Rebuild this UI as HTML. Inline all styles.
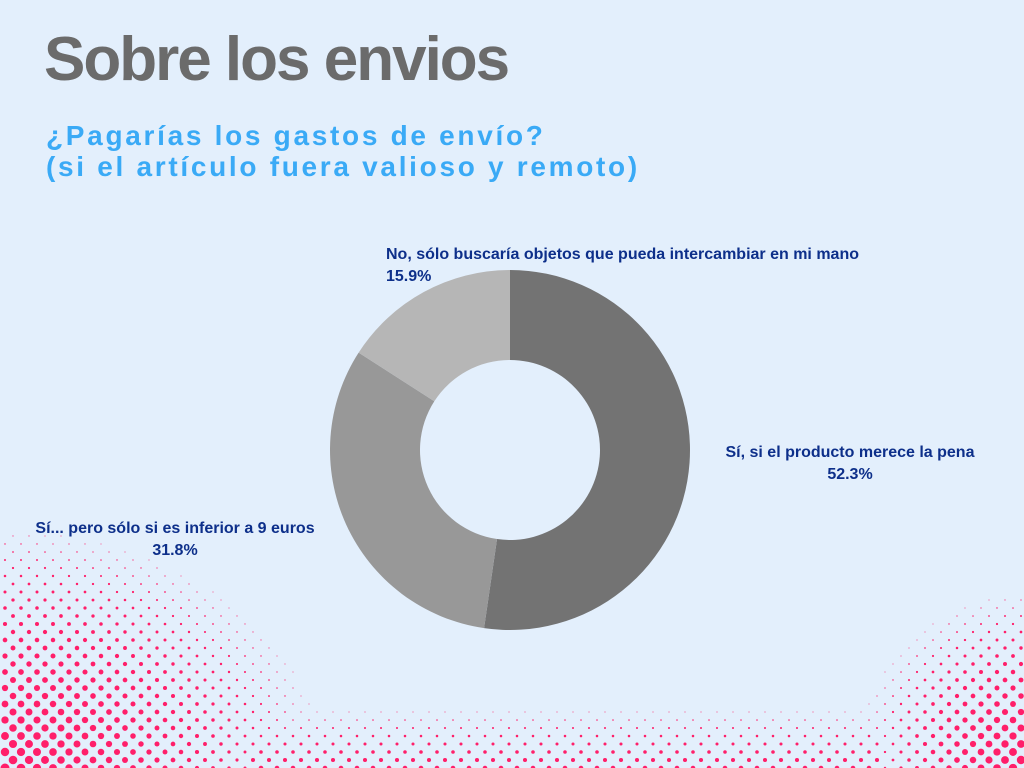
<!DOCTYPE html>
<html><head><meta charset="utf-8">
<style>
body{margin:0;width:1024px;height:768px;overflow:hidden;background:#e3effc;font-family:"Liberation Sans",sans-serif;position:relative}
#title{position:absolute;left:44px;top:24px;font-size:62px;font-weight:bold;color:#6b6b6b;letter-spacing:-2px;margin:0}
#sub{position:absolute;left:46px;top:120px;font-size:28px;font-weight:bold;color:#3aaaf6;letter-spacing:2.7px;line-height:31px}
.lbl{position:absolute;font-size:16px;font-weight:bold;color:#0d2f8a;text-align:center;line-height:22px;white-space:nowrap}
</style></head><body>
<svg id="dots" width="1024" height="768" style="position:absolute;left:0;top:0"></svg>
<h1 id="title">Sobre los envios</h1>
<div id="sub">¿Pagarías los gastos de envío?<br>(si el artículo fuera valioso y remoto)</div>
<svg id="chart" width="1024" height="768" style="position:absolute;left:0;top:0"></svg>
<div class="lbl" style="left:386px;top:244px;text-align:left">No, sólo buscaría objetos que pueda intercambiar en mi mano<br>15.9%</div>
<div class="lbl" style="left:700px;top:442px;width:300px">Sí, si el producto merece la pena<br>52.3%</div>
<div class="lbl" style="left:20px;top:518px;width:310px">Sí... pero sólo si es inferior a 9 euros<br>31.8%</div>
<script>
const categories=["Sí, si el producto merece la pena","Sí... pero sólo si es inferior a 9 euros","No, sólo buscaría objetos que pueda intercambiar en mi mano"];
const values=[52.3,31.8,15.9];
const colors=["#737373","#989898","#b6b6b6"];
const NS="http://www.w3.org/2000/svg";
const cx=510,cy=450,R=180,r=90;
const svg=document.getElementById('chart');
const total=values.reduce((a,b)=>a+b,0);
let a0=0;
function pt(a,rad){return [cx+rad*Math.sin(a),cy-rad*Math.cos(a)];}
values.forEach((v,i)=>{
  const a1=a0+v/total*2*Math.PI;
  const lg=(a1-a0)>Math.PI?1:0;
  const [x0,y0]=pt(a0,R),[x1,y1]=pt(a1,R),[x2,y2]=pt(a1,r),[x3,y3]=pt(a0,r);
  const p=document.createElementNS(NS,'path');
  p.setAttribute('d',`M${x0},${y0}A${R},${R} 0 ${lg} 1 ${x1},${y1}L${x2},${y2}A${r},${r} 0 ${lg} 0 ${x3},${y3}Z`);
  p.setAttribute('fill',colors[i]);
  
  
  svg.appendChild(p);
  a0=a1;
});
const ds=document.getElementById('dots');
let h='';
for(let y=528;y<772;y+=8){const row=Math.round((y-528)/8);
  for(let x=(row%2?13:5);x<1030;x+=16){
    const dl=Math.max(0,1-Math.hypot(x/330,(775-y)/250));
    const dr=Math.max(0,1-Math.hypot((1030-x)/180,(775-y)/185));
    const db=Math.max(0,(1-(768-y)/60))*0.45*(x>250&&x<880?1:0);
    const s=Math.max(dl,dr,db);
    if(s>0.02)h+=`<circle cx="${x}" cy="${y}" r="${(s*4.2+0.4).toFixed(2)}" fill="#ff1f6a"/>`;
  }}
ds.innerHTML=h;
</script>
</body></html>
